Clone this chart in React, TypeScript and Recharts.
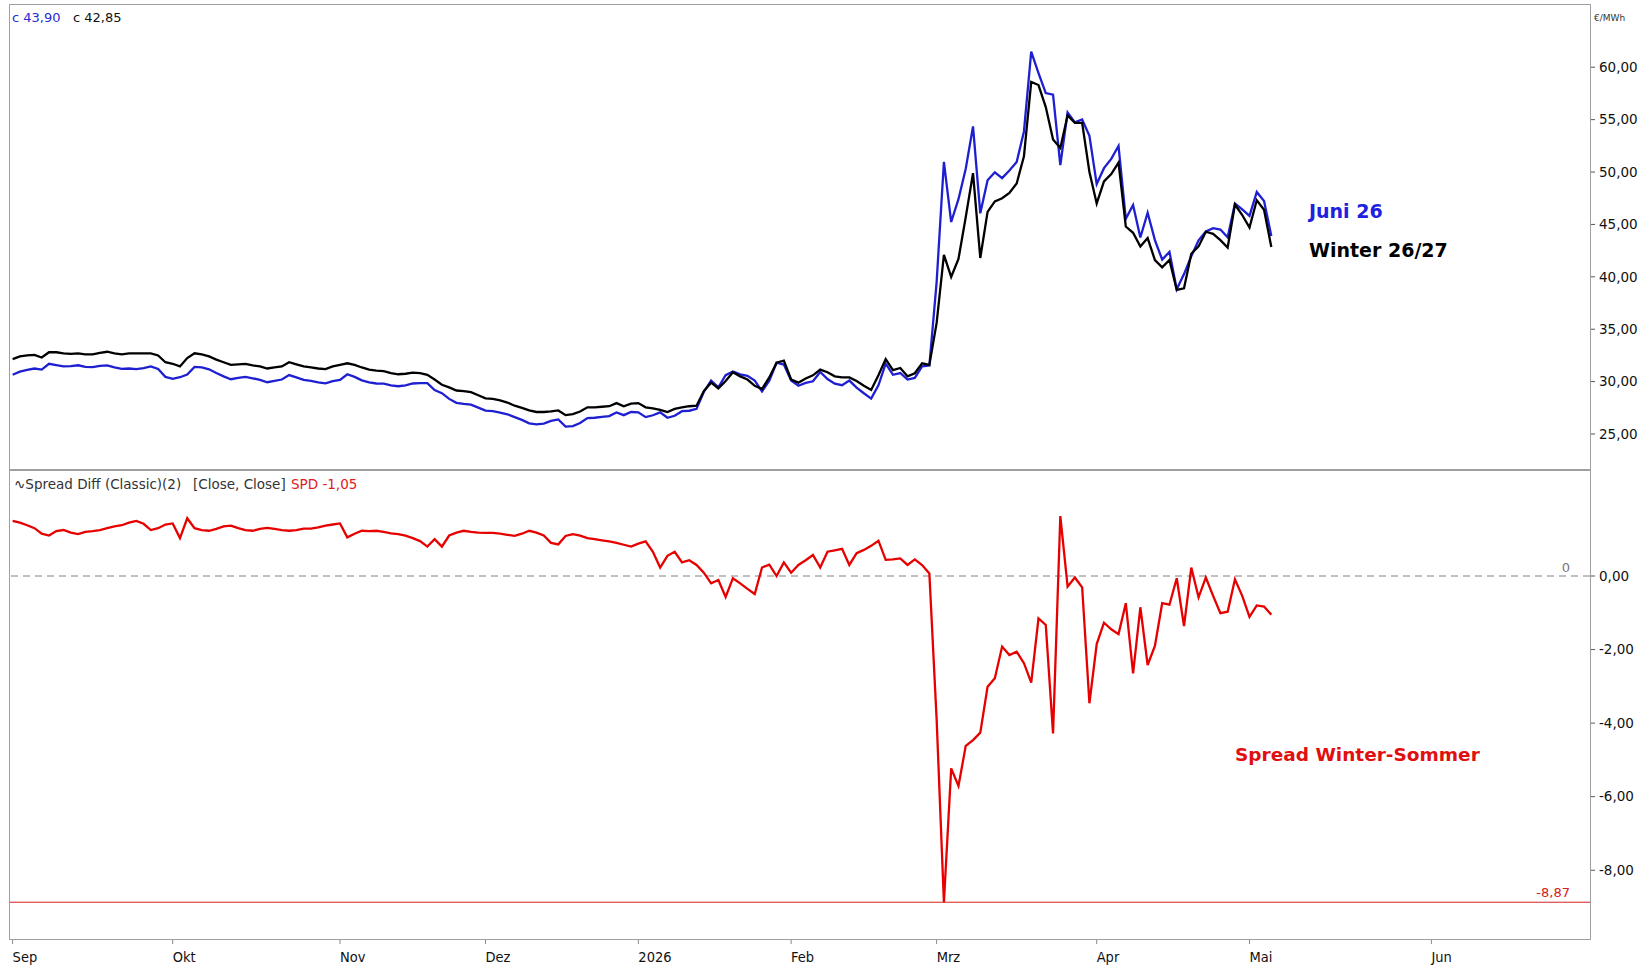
import React from 'react';
import { LineChart, Line, XAxis, YAxis, ReferenceLine } from 'recharts';

// Trading-day index (0 = 1 Sep 2025) values
const winter26_27 = [
  32.15, 32.40, 32.50, 32.55, 32.30, 32.80, 32.80, 32.70, 32.65, 32.70,
  32.60, 32.60, 32.75, 32.85, 32.70, 32.60, 32.70, 32.70, 32.70, 32.70,
  32.50, 31.85, 31.70, 31.45, 32.25, 32.70, 32.60, 32.40, 32.10, 31.85,
  31.60, 31.65, 31.70, 31.55, 31.45, 31.25, 31.35, 31.45, 31.85, 31.65,
  31.45, 31.35, 31.25, 31.20, 31.45, 31.60, 31.75, 31.60, 31.35, 31.15,
  31.05, 31.00, 30.80, 30.70, 30.75, 30.85, 30.80, 30.65, 30.20, 29.70,
  29.45, 29.15, 29.10, 29.00, 28.70, 28.40, 28.35, 28.20, 28.00, 27.70,
  27.50, 27.25, 27.10, 27.10, 27.15, 27.25, 26.80, 26.90, 27.15, 27.55,
  27.55, 27.60, 27.65, 27.95, 27.65, 27.90, 27.95, 27.55, 27.45, 27.30,
  27.10, 27.40, 27.55, 27.65, 27.70, 29.10, 29.90, 29.35, 30.05, 30.90,
  30.50, 30.20, 29.60, 29.30, 30.40, 31.80, 32.00, 30.20, 29.90, 30.30,
  30.60, 31.15, 30.90, 30.50, 30.40, 30.40, 30.05, 29.60, 29.20, 30.60,
  32.15, 31.10, 31.30, 30.50, 30.80, 31.75, 31.60, 35.60, 42.10, 40.00,
  41.70, 45.70, 49.90, 41.80, 46.20, 47.20, 47.50, 48.00, 48.90, 51.50,
  58.60, 58.30, 56.20, 53.10, 52.30, 55.40, 54.70, 54.70, 50.00, 47.00,
  49.10, 49.80, 50.90, 44.80, 44.20, 42.90, 43.70, 41.60, 40.90, 41.60,
  38.75, 38.90, 42.20, 42.90, 44.30, 44.10, 43.50, 42.80, 46.90, 45.90,
  44.70, 47.30, 46.40, 42.85,
];

const juni26 = [
  30.65, 30.95, 31.12, 31.25, 31.15, 31.70, 31.58, 31.45, 31.47, 31.56,
  31.40, 31.38, 31.50, 31.55, 31.35, 31.22, 31.25, 31.20, 31.28, 31.45,
  31.20, 30.45, 30.27, 30.42, 30.68, 31.40, 31.35, 31.17, 30.82, 30.50,
  30.23, 30.35, 30.45, 30.32, 30.17, 29.94, 30.07, 30.20, 30.62, 30.40,
  30.16, 30.06, 29.93, 29.83, 30.05, 30.17, 30.70, 30.45, 30.12, 29.93,
  29.82, 29.80, 29.64, 29.56, 29.65, 29.82, 29.85, 29.85, 29.20, 28.90,
  28.35, 27.97, 27.87, 27.80, 27.52, 27.23, 27.18, 27.05, 26.88, 26.61,
  26.35, 26.02, 25.92, 26.00, 26.25, 26.39, 25.71, 25.76, 26.05, 26.52,
  26.55, 26.63, 26.71, 27.05, 26.80, 27.10, 27.07, 26.61, 26.79, 27.07,
  26.55, 26.74, 27.18, 27.22, 27.40, 29.01, 30.10, 29.46, 30.62, 30.96,
  30.70, 30.55, 30.09, 29.07, 30.09, 31.80, 31.63, 30.11, 29.60, 29.87,
  30.03, 30.92, 30.24, 29.80, 29.66, 30.10, 29.43, 28.89, 28.38, 29.64,
  31.71, 30.65, 30.82, 30.20, 30.35, 31.45, 31.53, 39.50, 50.97, 45.23,
  47.41, 50.32, 54.36, 46.06, 49.21, 49.98, 49.42, 50.15, 50.96, 53.87,
  61.50, 59.45, 57.53, 57.38, 50.67, 55.69, 54.74, 55.01, 53.46, 48.85,
  50.37, 51.25, 52.48, 45.54, 46.85, 43.75, 46.12, 43.50, 41.64, 42.38,
  38.81, 40.26, 41.97, 43.48, 44.34, 44.64, 44.51, 43.77, 46.99, 46.44,
  45.81, 48.10, 47.23, 43.90,
];

const spreadWinterSommer = [
  1.50, 1.45, 1.38, 1.30, 1.15, 1.10, 1.22, 1.25, 1.18, 1.14,
  1.20, 1.22, 1.25, 1.30, 1.35, 1.38, 1.45, 1.50, 1.42, 1.25,
  1.30, 1.40, 1.43, 1.03, 1.57, 1.30, 1.25, 1.23, 1.28, 1.35,
  1.37, 1.30, 1.25, 1.23, 1.28, 1.31, 1.28, 1.25, 1.23, 1.25,
  1.29, 1.29, 1.32, 1.37, 1.40, 1.43, 1.05, 1.15, 1.23, 1.22,
  1.23, 1.20, 1.16, 1.14, 1.10, 1.03, 0.95, 0.80, 1.00, 0.80,
  1.10, 1.18, 1.23, 1.20, 1.18, 1.17, 1.17, 1.15, 1.12, 1.09,
  1.15, 1.23, 1.18, 1.10, 0.90, 0.86, 1.09, 1.14, 1.10, 1.03,
  1.00, 0.97, 0.94, 0.90, 0.85, 0.80, 0.88, 0.94, 0.66, 0.23,
  0.55, 0.66, 0.37, 0.43, 0.30, 0.09, -0.20, -0.11, -0.57, -0.06,
  -0.20, -0.35, -0.49, 0.23, 0.31, 0.00, 0.37, 0.09, 0.30, 0.43,
  0.57, 0.23, 0.66, 0.70, 0.74, 0.30, 0.62, 0.71, 0.82, 0.96,
  0.44, 0.45, 0.48, 0.30, 0.45, 0.30, 0.07, -3.90, -8.87, -5.23,
  -5.71, -4.62, -4.46, -4.26, -3.01, -2.78, -1.92, -2.15, -2.06, -2.37,
  -2.90, -1.15, -1.33, -4.28, 1.63, -0.29, -0.04, -0.31, -3.46, -1.85,
  -1.27, -1.45, -1.58, -0.74, -2.65, -0.85, -2.42, -1.90, -0.74, -0.78,
  -0.06, -1.36, 0.23, -0.58, -0.04, -0.54, -1.01, -0.97, -0.09, -0.54,
  -1.11, -0.80, -0.83, -1.05,
];

const monthTickPositions = [0, 22, 45, 65, 86, 107, 127, 149, 170, 195];
const monthTickLabels = ['Sep', 'Okt', 'Nov', 'Dez', '2026', 'Feb', 'Mrz', 'Apr', 'Mai', 'Jun'];
const priceTicks = [25, 30, 35, 40, 45, 50, 55, 60];
const spreadTicks = [0, -2, -4, -6, -8];
const spreadMin = -8.87;

const data = winter26_27.map((w, i) => ({
  t: i,
  winter: w,
  juni: juni26[i],
  spread: spreadWinterSommer[i],
}));

const X_DOMAIN: [number, number] = [-0.36, 216.8];
const BLUE = '#1f1fd2';
const RED = '#e60000';
const FONT = "'DejaVu Sans', Tahoma, Verdana, sans-serif";
const NARROW = "'DejaVu Sans Condensed', 'Liberation Sans Narrow', 'DejaVu Sans', sans-serif";

const fmt = (v: number) => v.toFixed(2).replace('.', ',');

const MonthTick = (props: any) => {
  const { x, y, payload } = props;
  const idx = monthTickPositions.indexOf(payload.value);
  return (
    <text x={x} y={y + 16} fontSize={14.5} fontFamily={NARROW} fill="#111" textAnchor="start" style={{ fontStretch: 'condensed' }}>
      {monthTickLabels[idx]}
    </text>
  );
};

const abs = (left: number, top: number, extra: React.CSSProperties = {}): React.CSSProperties => ({
  position: 'absolute',
  left,
  top,
  whiteSpace: 'nowrap',
  fontFamily: FONT,
  ...extra,
});

export default function App() {
  return (
    <div style={{ position: 'absolute', left: 0, top: 0, width: 1648, height: 966, background: '#fff', overflow: 'hidden' }}>
      {/* price panel */}
      <div style={{ position: 'absolute', left: 0, top: 0 }}>
        <LineChart width={1648} height={470} data={data} margin={{ top: 5, right: 0, bottom: 1, left: 10 }}>
          <XAxis dataKey="t" type="number" domain={X_DOMAIN} hide allowDataOverflow />
          <YAxis
            orientation="right"
            width={58}
            domain={[21.66, 65.94]}
            ticks={priceTicks}
            allowDataOverflow
            axisLine={false}
            tickLine={{ stroke: '#555' }}
            tickSize={5}
            tickMargin={4}
            tickFormatter={fmt}
            tick={{ fontSize: 13.5, fill: '#111', fontFamily: FONT }}
          />
          <Line dataKey="juni" stroke={BLUE} strokeWidth={2.3} dot={false} activeDot={false} isAnimationActive={false} type="linear" />
          <Line dataKey="winter" stroke="#000" strokeWidth={2.3} dot={false} activeDot={false} isAnimationActive={false} type="linear" />
        </LineChart>
      </div>

      {/* spread panel */}
      <div style={{ position: 'absolute', left: 0, top: 471 }}>
        <LineChart width={1648} height={495} data={data} margin={{ top: 0, right: 0, bottom: 0, left: 10 }}>
          <XAxis
            dataKey="t"
            type="number"
            domain={X_DOMAIN}
            ticks={monthTickPositions}
            allowDataOverflow
            height={27}
            axisLine={false}
            tickLine={{ stroke: '#888' }}
            tickSize={5}
            tick={<MonthTick />}
            interval={0}
          />
          <YAxis
            orientation="right"
            width={58}
            domain={[-9.87, 2.855]}
            ticks={spreadTicks}
            allowDataOverflow
            axisLine={false}
            tickLine={{ stroke: '#555' }}
            tickSize={5}
            tickMargin={4}
            tickFormatter={fmt}
            tick={{ fontSize: 13.5, fill: '#111', fontFamily: FONT }}
          />
          <ReferenceLine
            y={0}
            stroke="#808080"
            strokeDasharray="7 5"
            label={(p: any) => (
              <text x={p.viewBox.x + p.viewBox.width - 24} y={p.viewBox.y - 4} fontSize={13} fill="#777" fontFamily={FONT} textAnchor="middle">0</text>
            )}
          />
          <ReferenceLine
            y={spreadMin}
            stroke="#d42020"
            strokeWidth={1}
            label={(p: any) => (
              <text x={p.viewBox.x + p.viewBox.width - 20} y={p.viewBox.y - 5} fontSize={13} fill="#d42020" fontFamily={FONT} textAnchor="end">{fmt(spreadMin)}</text>
            )}
          />
          <Line dataKey="spread" stroke={RED} strokeWidth={2.3} dot={false} activeDot={false} isAnimationActive={false} type="linear" />
        </LineChart>
      </div>

      {/* frames */}
      <div style={{ position: 'absolute', left: 9, top: 4, width: 1582, height: 466, border: '1px solid #a0a0a0', boxSizing: 'border-box', pointerEvents: 'none' }} />
      <div style={{ position: 'absolute', left: 9, top: 470, width: 1582, height: 470, border: '1px solid #a0a0a0', boxSizing: 'border-box', pointerEvents: 'none' }} />

      {/* header texts */}
      <span style={abs(12, 10, { fontSize: 13, color: '#2a2ad0', lineHeight: '16px' })}>c 43,90</span>
      <span style={abs(73, 10, { fontSize: 13, color: '#111', lineHeight: '16px' })}>c 42,85</span>
      <span style={abs(1594, 12, { fontSize: 9, color: '#333', lineHeight: '12px' })}>€/MWh</span>

      <span style={abs(14, 476, { fontSize: 13.5, color: '#333', lineHeight: '16px' })}>∿Spread Diff (Classic)(2)</span>
      <span style={abs(193, 476, { fontSize: 13.5, color: '#333', lineHeight: '16px' })}>[Close, Close]</span>
      <span style={abs(291, 476, { fontSize: 13.5, color: '#e02020', lineHeight: '16px' })}>SPD -1,05</span>

      {/* annotations */}
      <span style={abs(1309, 201, { fontSize: 19, fontWeight: 'bold', color: '#2020e0', lineHeight: '20px' })}>Juni 26</span>
      <span style={abs(1309, 240, { fontSize: 19, fontWeight: 'bold', color: '#000', lineHeight: '20px' })}>Winter 26/27</span>
      <span style={abs(1235, 745, { fontSize: 18.5, fontWeight: 'bold', color: '#e01010', lineHeight: '20px' })}>Spread Winter-Sommer</span>
    </div>
  );
}
